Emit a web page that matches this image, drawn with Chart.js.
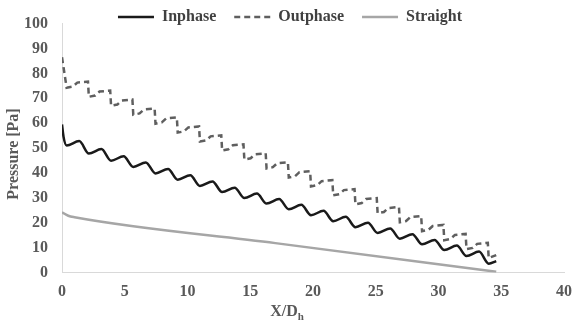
<!DOCTYPE html>
<html><head><meta charset="utf-8">
<script src="https://cdn.jsdelivr.net/npm/chart.js@4.4.1/dist/chart.umd.min.js"></script>
<style>html,body{margin:0;padding:0;background:#fff}#wrap{width:582px;height:325px;position:relative}</style>
</head><body><div id="wrap"><canvas id="c"></canvas></div>
<script>
// ---- data ----
const seriesNames = ['Inphase', 'Outphase', 'Straight'];
const inphaseX = [0, 0.12, 0.37, 1.37, 2.14, 3.14, 3.91, 4.91, 5.68, 6.68, 7.45, 8.45, 9.22, 10.22, 10.99, 11.99, 12.76, 13.76, 14.53, 15.53, 16.30, 17.30, 18.07, 19.07, 19.84, 20.84, 21.61, 22.61, 23.38, 24.38, 25.15, 26.15, 26.92, 27.92, 28.69, 29.69, 30.46, 31.46, 32.23, 33.23, 34.00, 34.6];
const inphaseY = [59.5, 54.6, 51.0, 52.8, 47.8, 49.6, 44.9, 46.7, 42.4, 44.2, 39.8, 41.6, 37.3, 39.1, 34.8, 36.6, 32.3, 34.1, 29.9, 31.7, 27.7, 29.5, 25.4, 27.2, 23.0, 24.8, 20.6, 22.4, 18.2, 20.0, 15.9, 17.7, 13.6, 15.4, 11.3, 13.1, 9.0, 10.8, 6.6, 8.4, 3.5, 4.6];
const outphaseX = [0, 0.37, 0.87, 1.22, 2.07, 2.14, 2.64, 2.99, 3.84, 3.91, 4.41, 4.76, 5.61, 5.68, 6.18, 6.53, 7.38, 7.45, 7.95, 8.30, 9.15, 9.22, 9.72, 10.07, 10.92, 10.99, 11.49, 11.84, 12.69, 12.76, 13.26, 13.61, 14.46, 14.53, 15.03, 15.38, 16.23, 16.30, 16.80, 17.15, 18.00, 18.07, 18.57, 18.92, 19.77, 19.84, 20.34, 20.69, 21.54, 21.61, 22.11, 22.46, 23.31, 23.38, 23.88, 24.23, 25.08, 25.15, 25.65, 26.00, 26.85, 26.92, 27.42, 27.77, 28.62, 28.69, 29.19, 29.54, 30.39, 30.46, 30.96, 31.31, 32.16, 32.23, 32.73, 33.08, 33.93, 34.00, 34.6];
const outphaseY = [86.5, 74.2, 74.7, 76.3, 76.7, 70.6, 71.1, 72.7, 73.1, 67.0, 67.5, 69.1, 69.5, 63.4, 63.9, 65.5, 65.9, 59.8, 60.3, 61.9, 62.3, 56.2, 56.7, 58.3, 58.7, 52.6, 53.1, 54.7, 55.1, 49.0, 49.5, 51.1, 51.5, 45.4, 45.9, 47.5, 47.9, 41.8, 42.3, 43.9, 44.3, 38.2, 38.7, 40.3, 40.7, 34.6, 35.1, 36.7, 37.1, 31.0, 31.5, 33.1, 33.5, 27.4, 27.9, 29.5, 29.9, 23.8, 24.3, 25.9, 26.3, 20.2, 20.7, 22.3, 22.7, 16.6, 17.1, 18.7, 19.1, 13.0, 13.5, 15.1, 15.5, 9.4, 9.9, 11.5, 11.9, 5.8, 7.0];
const straightX = [0, 0.5, 1.0, 17, 34.6];
const straightY = [24.2, 22.8, 22.2, 11.8, 0.3];
const xTitleMain = 'X/D';
const xTitleSub = 'h';
const yTitle = 'Pressure [Pa]';

// ---- chart ----
const FONT = '"Liberation Serif", "Times New Roman", serif';
const pts = (xs, ys) => xs.map((x, i) => ({x: x, y: ys[i]}));

const axisTitles = {
  id: 'axisTitles',
  afterDraw(chart) {
    const ctx = chart.ctx;
    ctx.save();
    ctx.fillStyle = '#595959';
    ctx.font = 'bold 16px ' + FONT;
    ctx.textBaseline = 'middle';
    ctx.textAlign = 'center';
    ctx.translate(14, 154);
    ctx.rotate(-Math.PI / 2);
    ctx.fillText(yTitle, 0, 0);
    ctx.restore();

    ctx.save();
    ctx.fillStyle = '#595959';
    ctx.textBaseline = 'middle';
    ctx.textAlign = 'left';
    ctx.font = 'bold 16px ' + FONT;
    const w1 = ctx.measureText(xTitleMain).width;
    ctx.font = 'bold 11px ' + FONT;
    const w2 = ctx.measureText(xTitleSub).width;
    const x0 = 287 - (w1 + w2) / 2;
    ctx.font = 'bold 16px ' + FONT;
    ctx.fillText(xTitleMain, x0, 312);
    ctx.font = 'bold 11px ' + FONT;
    ctx.fillText(xTitleSub, x0 + w1, 317);
    ctx.restore();
  }
};

// legend keeps no layout space (it sits inside the plot, as in the reference)
const placeLegend = {
  id: 'placeLegend',
  beforeLayout(chart) {
    const lg = chart.legend;
    if (!lg || lg._patched) return;
    const fit = lg.fit;
    lg.fit = function () { fit.call(this); this._realH = this.height; this.height = 0; };
    lg._patched = true;
  },
  afterLayout(chart) {
    const lg = chart.legend;
    if (!lg) return;
    const dx = 290 - (lg.left + lg.right) / 2;
    lg.left += dx; lg.right += dx;
    lg.top = 17 - 18 - 8;
    lg.bottom = lg.top + (lg._realH || 66);
  }
};

new Chart(document.getElementById('c'), {
  type: 'line',
  data: {
    datasets: [
      {label: seriesNames[0], data: pts(inphaseX, inphaseY), borderColor: '#1a1a1a', backgroundColor: '#1a1a1a', borderWidth: 2.5, pointRadius: 0, cubicInterpolationMode: 'monotone', fill: false},
      {label: seriesNames[1], data: pts(outphaseX, outphaseY), borderColor: '#5f5f5f', backgroundColor: '#5f5f5f', borderWidth: 2.5, borderDash: [6, 4], pointRadius: 0, tension: 0, fill: false},
      {label: seriesNames[2], data: pts(straightX, straightY), borderColor: '#a6a6a6', backgroundColor: '#a6a6a6', borderWidth: 2.5, pointRadius: 0, cubicInterpolationMode: 'monotone', fill: false}
    ]
  },
  options: {
    responsive: true,
    maintainAspectRatio: false,
    animation: false,
    layout: {padding: {top: 10, right: 13, left: 0, bottom: 0}},
    plugins: {
      legend: {
        position: 'top',
        align: 'center',
        labels: {
          usePointStyle: true, pointStyle: 'line', pointStyleWidth: 36,
          padding: 18, color: '#404040',
          font: {family: FONT, size: 16, weight: 'bold'},
          generateLabels(chart) {
            const items = Chart.defaults.plugins.legend.labels.generateLabels(chart);
            items.forEach(it => {
              const ds = chart.data.datasets[it.datasetIndex];
              it.lineDash = ds.borderDash || [];
              it.lineWidth = ds.borderWidth;
              it.strokeStyle = ds.borderColor;
              it.fillStyle = ds.borderColor;
            });
            return items;
          }
        }
      },
      tooltip: {enabled: false}
    },
    scales: {
      x: {
        type: 'linear', min: 0, max: 40,
        ticks: {stepSize: 5, padding: 10, color: '#595959', font: {family: FONT, size: 16, weight: 'bold'}},
        grid: {display: false, drawTicks: false},
        border: {display: true, color: '#d9d9d9', width: 1},
        afterFit: s => { s.height = 52.5; }
      },
      y: {
        type: 'linear', min: 0, max: 100,
        ticks: {stepSize: 10, padding: 14, color: '#595959', font: {family: FONT, size: 16, weight: 'bold'}},
        grid: {display: false, drawTicks: false},
        border: {display: true, color: '#d9d9d9', width: 1},
        afterFit: s => { s.width = 62; }
      }
    }
  },
  plugins: [placeLegend, axisTitles]
});
</script>
</body></html>
